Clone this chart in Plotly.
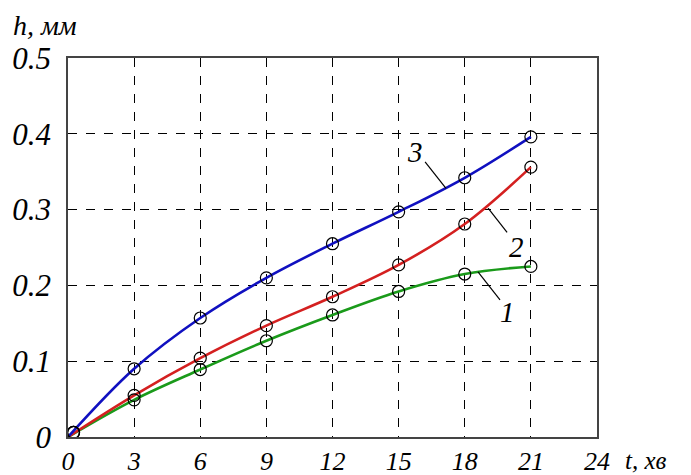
import plotly.graph_objects as go

t = [0, 3, 6, 9, 12, 15, 18, 21]
t_mark = [0.25, 3, 6, 9, 12, 15, 18, 21]
h1 = [0.0, 0.049, 0.089, 0.127, 0.161, 0.192, 0.215, 0.225]
h2 = [0.0, 0.055, 0.104, 0.147, 0.185, 0.227, 0.281, 0.356]
h3 = [0.0, 0.090, 0.157, 0.210, 0.255, 0.297, 0.342, 0.396]
h1_m = [0.006] + h1[1:]
h2_m = [0.006] + h2[1:]
h3_m = [0.006] + h3[1:]
x_ticks = [0, 3, 6, 9, 12, 15, 18, 21, 24]
y_ticks = [0, 0.1, 0.2, 0.3, 0.4, 0.5]
y_tick_text = ["0", "0.1", "0.2", "0.3", "0.4", "0.5"]

colors = {"1": "#1a9a1a", "2": "#d42020", "3": "#1010c0"}
SERIF = "serif"

fig = go.Figure()
for name, h in [("1", h1), ("2", h2), ("3", h3)]:
    fig.add_trace(go.Scatter(x=t, y=h, mode="lines", line=dict(color=colors[name], width=2.6, shape="spline", smoothing=1.0),
                             showlegend=False, hoverinfo="skip"))
for name, hm in [("1", h1_m), ("2", h2_m), ("3", h3_m)]:
    fig.add_trace(go.Scatter(x=t_mark, y=hm, mode="markers",
                             marker=dict(symbol="circle-open", size=12, color="black", line=dict(width=1.2)),
                             showlegend=False))

labels = [("3", 15.74, 0.376, (16.2, 0.363), (17.15, 0.328)),
          ("2", 20.37, 0.251, (19.06, 0.302), (19.92, 0.270)),
          ("1", 19.92, 0.165, (18.6, 0.218), (19.6, 0.181))]
for txt, lx, ly, p0, p1 in labels:
    fig.add_annotation(x=lx, y=ly, text=txt, showarrow=False, font=dict(family=SERIF, size=29, color="black", style="italic"))
    fig.add_shape(type="line", x0=p0[0], y0=p0[1], x1=p1[0], y1=p1[1], line=dict(color="black", width=1.2))

fig.add_annotation(xref="paper", yref="paper", x=-0.108, y=1.04, xanchor="left", yanchor="bottom",
                   text="h, мм", showarrow=False, font=dict(family=SERIF, size=28, color="black", style="italic"))
fig.add_annotation(xref="paper", yref="paper", x=1.05, y=-0.02, xanchor="left", yanchor="top",
                   text="t, хв", showarrow=False, font=dict(family=SERIF, size=25, color="black", style="italic"))

fig.update_layout(
    width=683, height=467,
    margin=dict(l=60, r=94, t=50, b=38),
    paper_bgcolor="white", plot_bgcolor="white",
    xaxis=dict(range=[0, 24], tickvals=x_ticks, ticktext=[str(v) for v in x_ticks],
               tickfont=dict(family=SERIF, size=26, color="black", style="italic"), automargin=False,
               showgrid=True, gridcolor="black", griddash="dash", gridwidth=1,
               showline=True, linecolor="#444", linewidth=1.5, mirror=True, zeroline=False, ticks="", ticklabelstandoff=0),
    yaxis=dict(range=[0, 0.5], tickvals=y_ticks, ticktext=y_tick_text,
               tickfont=dict(family=SERIF, size=31, color="black", style="italic"), automargin=False,
               showgrid=True, gridcolor="black", griddash="dash", gridwidth=1,
               showline=True, linecolor="#444", linewidth=1.5, mirror=True, zeroline=False, ticks="", ticklabelstandoff=9),
)
fig.write_html("out.html")
